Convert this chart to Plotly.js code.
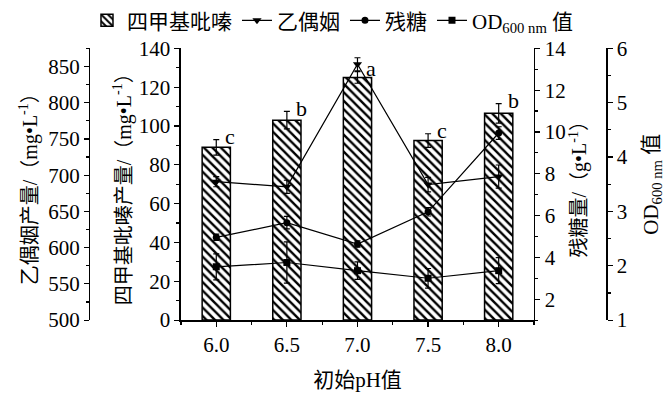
<!DOCTYPE html>
<html>
<head>
<meta charset="utf-8">
<script src="https://cdn.plot.ly/plotly-3.0.1.min.js"></script>
<style>html,body{margin:0;padding:0;background:#fff;}#chart{width:670px;height:394px;}</style>
</head>
<body>
<div id="chart"></div>
<script>
// Data
const phValues = [6.0, 6.5, 7.0, 7.5, 8.0];
const phLabels = ['6.0', '6.5', '7.0', '7.5', '8.0'];
const tmpYield = [89, 103, 125, 92.5, 106.5];        // 四甲基吡嗪 mg/L
const tmpErr = [4, 4.5, 3, 3.5, 5];
const sigLetters = ['c', 'b', 'a', 'c', 'b'];
const acetoin = [691, 684, 853, 687, 698];            // 乙偶姻 mg/L
const acetoinErr = [7, 9, 9, 10, 16];
const sugar = [4.96, 5.66, 4.64, 6.18, 9.95];          // 残糖 g/L
const sugarErr = [0.15, 0.3, 0.15, 0.2, 0.3];
const od600 = [1.98, 2.06, 1.91, 1.77, 1.91];          // OD600
const odErr = [0.24, 0.38, 0.16, 0.18, 0.24];

const FONT = 'Liberation Serif, "Noto Sans CJK SC", serif';
const errStyle = {type: 'data', visible: true, color: 'black', thickness: 1.2, width: 3};

const traces = [
  {
    type: 'bar', name: '四甲基吡嗪', x: phValues, y: tmpYield, yaxis: 'y', width: 0.2,
    error_y: Object.assign({array: tmpErr}, errStyle),
    marker: {color: 'white', line: {color: 'black', width: 1.5},
      pattern: {shape: '\\', fgcolor: 'black', bgcolor: 'white', size: 6, solidity: 0.4}}
  },
  {
    type: 'scatter', mode: 'lines+markers', name: '乙偶姻', x: phValues, y: acetoin, yaxis: 'y2',
    line: {color: 'black', width: 1.2}, marker: {symbol: 'triangle-down', size: 8, color: 'black'},
    error_y: Object.assign({array: acetoinErr}, errStyle)
  },
  {
    type: 'scatter', mode: 'lines+markers', name: '残糖', x: phValues, y: sugar, yaxis: 'y3',
    line: {color: 'black', width: 1.2}, marker: {symbol: 'circle', size: 7, color: 'black'},
    error_y: Object.assign({array: sugarErr}, errStyle)
  },
  {
    type: 'scatter', mode: 'lines+markers', name: 'OD<sub>600 nm</sub> 值', x: phValues, y: od600, yaxis: 'y4',
    line: {color: 'black', width: 1.2}, marker: {symbol: 'square', size: 7, color: 'black'},
    error_y: Object.assign({array: odErr}, errStyle)
  }
];

const axisCommon = {
  showline: true, linecolor: 'black', linewidth: 1.5, ticks: 'outside', ticklen: 5, tickwidth: 1.2,
  tickcolor: 'black', showgrid: false, zeroline: false, tickfont: {family: FONT, size: 21, color: 'black'},
  automargin: false
};

const yDomain = [0.1904, 0.8909];

const layout = {
  width: 670, height: 394,
  margin: {l: 0, r: 0, t: 0, b: 0},
  paper_bgcolor: 'white', plot_bgcolor: 'rgba(0,0,0,0)',
  font: {family: FONT, size: 20, color: 'black'},
  showlegend: true,
  legend: {orientation: 'h', x: 0.497, xanchor: 'center', y: 1.015, yanchor: 'top',
    font: {family: FONT, size: 21, color: 'black'}, itemwidth: 30, bgcolor: 'rgba(0,0,0,0)'},
  xaxis: Object.assign({}, axisCommon, {
    domain: [0.2701, 0.797], range: [5.75, 8.25], tickvals: phValues, ticktext: phLabels,
    anchor: 'y', minor: {tickvals: [5.75, 6.25, 6.75, 7.25, 7.75, 8.25], ticks: 'outside', ticklen: 3, tickcolor: 'black'},
    title: {text: '初始pH值', font: {family: FONT, size: 21, color: 'black'}, standoff: 16}
  }),
  yaxis: Object.assign({}, axisCommon, {
    domain: yDomain, range: [0, 140], dtick: 20, tick0: 0, anchor: 'x', side: 'left',
    minor: {dtick: 10, ticks: 'outside', ticklen: 3, tickcolor: 'black'},
    title: {text: '四甲基吡嗪产量/（mg•L<sup>-1</sup>）', font: {family: FONT, size: 20, color: 'black'}, standoff: 2}
  }),
  yaxis2: Object.assign({}, axisCommon, {
    overlaying: 'y', anchor: 'free', position: 0.1328, side: 'left', range: [500, 875], dtick: 50, tick0: 500,
    minor: {dtick: 25, ticks: 'outside', ticklen: 3, tickcolor: 'black'},
    title: {text: '乙偶姻产量/（mg•L<sup>-1</sup>）', font: {family: FONT, size: 20, color: 'black'}, standoff: 4}
  }),
  yaxis3: Object.assign({}, axisCommon, {
    overlaying: 'y', anchor: 'x', side: 'right', range: [1, 14], dtick: 2, tick0: 2,
    minor: {dtick: 1, ticks: 'outside', ticklen: 3, tickcolor: 'black'},
    title: {text: '残糖量/（g•L<sup>-1</sup>）', font: {family: FONT, size: 20, color: 'black'}, standoff: 2}
  }),
  yaxis4: Object.assign({}, axisCommon, {
    overlaying: 'y', anchor: 'free', position: 0.9045, side: 'right', range: [1, 6], dtick: 1, tick0: 1,
    minor: {dtick: 0.5, ticks: 'outside', ticklen: 3, tickcolor: 'black'},
    title: {text: 'OD<sub>600 nm</sub> 值', font: {family: FONT, size: 21, color: 'black'}, standoff: 16}
  }),
  annotations: phValues.map((x, i) => ({
    x: x, y: tmpYield[i] + tmpErr[i], xref: 'x', yref: 'y', text: sigLetters[i], showarrow: false,
    xanchor: 'left', yanchor: 'middle', xshift: 7, yshift: 3,
    font: {family: FONT, size: 22, color: 'black'}
  }))
};

Plotly.newPlot('chart', traces, layout, {staticPlot: true, displayModeBar: false});
</script>
</body>
</html>
